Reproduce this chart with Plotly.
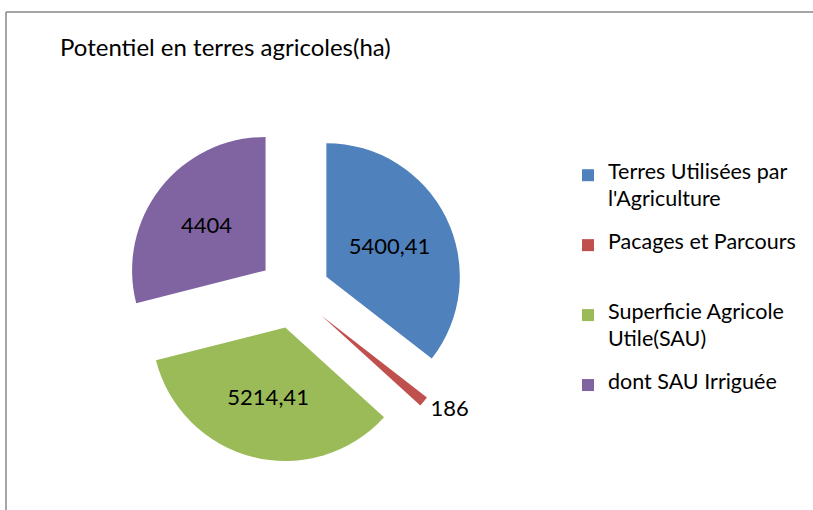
import textwrap
import plotly.graph_objects as go

categories = ["Terres Utilisées par l'Agriculture",
              "Pacages et Parcours",
              "Superficie Agricole Utile(SAU)",
              "dont SAU Irriguée"]
values = [5400.41, 186, 5214.41, 4404]
colors = ["#4F81BD", "#C0504D", "#9BBB59", "#8064A2"]
text_positions = ["inside", "outside", "inside", "inside"]
title_text = "Potentiel en terres agricoles(ha)"

W, H = 813, 510
FONT = "Lato"
LEG_TEXT_SIZE = 21.5   # visible glyph size of legend text
LEG_SPACING = 10.3     # legend base size -> controls line pitch


def legend_label(cat):
    lines = textwrap.wrap(cat, width=20)
    lines = [f'<span style="font-size:{LEG_TEXT_SIZE}px">{l}</span>' for l in lines]
    out = []
    for l in lines:
        out += [l, " "]
    while len(out) < 5:
        out.append(" ")
    return "<br>".join(out[:5])


labels = [legend_label(c) for c in categories]

fig = go.Figure(go.Pie(
    labels=labels,
    values=values,
    sort=False,
    direction="clockwise",
    rotation=0,
    pull=0.27,
    marker=dict(colors=colors, line=dict(width=0)),
    texttemplate="%{value:.6~g}",
    textposition=text_positions,
    insidetextorientation="horizontal",
    textfont=dict(family=FONT, size=22, color="black"),
    domain=dict(x=[124.5 / W, 463.5 / W],
                y=[(H - 463) / H, (H - 122) / H]),
    hoverinfo="value",
))

fig.update_layout(
    width=W, height=H,
    margin=dict(l=0, r=0, t=0, b=0, autoexpand=False),
    paper_bgcolor="white",
    separators=",",
    font=dict(family=FONT, color="black"),
    title=dict(text=title_text, x=60 / W, xanchor="left", xref="paper",
               y=1 - 48 / H, yanchor="middle", yref="paper",
               font=dict(family=FONT, size=24, color="black")),
    legend=dict(x=568 / W, xanchor="left", y=1 - 162 / H, yanchor="top",
                valign="top", font=dict(family=FONT, size=LEG_SPACING, color="black"),
                bgcolor="rgba(0,0,0,0)"),
    shapes=[
        dict(type="line", xref="paper", yref="paper",
             x0=6 / W, x1=1, y0=1 - 12 / H, y1=1 - 12 / H,
             line=dict(color="#878787", width=1.5)),
        dict(type="line", xref="paper", yref="paper",
             x0=6 / W, x1=6 / W, y0=0, y1=1 - 12 / H,
             line=dict(color="#878787", width=1.5)),
    ],
)

fig.write_html("out.html", config={"displayModeBar": False},
               post_script="document.body.style.margin='0px';")
